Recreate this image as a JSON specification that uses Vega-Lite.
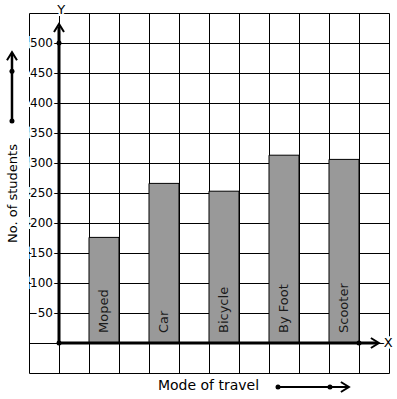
{
  "$schema": "https://vega.github.io/schema/vega-lite/v6.json",
  "width": 360,
  "height": 360,
  "autosize": {"type": "none"},
  "padding": {"left": 29, "top": 13, "right": 8, "bottom": 26},
  "config": {"font": "DejaVu Sans", "view": {"stroke": null}},
  "datasets": {
    "travel": [
      {"mode": "Moped", "students": 176, "slot": 1},
      {"mode": "Car", "students": 266, "slot": 3},
      {"mode": "Bicycle", "students": 253, "slot": 5},
      {"mode": "By Foot", "students": 313, "slot": 7},
      {"mode": "Scooter", "students": 306, "slot": 9}
    ],
    "ticks": [
      {"v": 50}, {"v": 100}, {"v": 150}, {"v": 200}, {"v": 250},
      {"v": 300}, {"v": 350}, {"v": 400}, {"v": 450}, {"v": 500}
    ],
    "one": [{}]
  },
  "layer": [
    {
      "data": {"name": "travel"},
      "mark": {"type": "bar", "fill": "#999999", "stroke": "#000000", "strokeWidth": 1, "size": 30},
      "encoding": {
        "x": {
          "field": "slot", "type": "quantitative",
          "scale": {"domain": [-1.5, 10.5], "nice": false, "zero": false, "padding": 0},
          "axis": {
            "values": [-1.5, -0.5, 0.5, 1.5, 2.5, 3.5, 4.5, 5.5, 6.5, 7.5, 8.5, 9.5, 10.5],
            "tickCount": 30,
            "grid": true, "gridColor": "#000000", "gridWidth": 1, "gridOpacity": 1,
            "labels": false, "ticks": false, "domain": false,
            "title": "Mode of travel", "titleFontSize": 14, "titleFontWeight": "normal",
            "titleColor": "#000000", "titleX": 179, "titleY": 12,
            "titleBaseline": "middle", "titleAlign": "center"
          }
        },
        "y": {
          "field": "students", "type": "quantitative",
          "scale": {"domain": [-50, 550], "nice": false, "zero": false, "padding": 0},
          "axis": {
            "values": [-50, 0, 50, 100, 150, 200, 250, 300, 350, 400, 450, 500, 550],
            "tickCount": 30,
            "grid": true, "gridColor": "#000000", "gridWidth": 1, "gridOpacity": 1,
            "labels": false, "ticks": false, "domain": false,
            "title": "No. of students", "titleFontSize": 13, "titleFontWeight": "normal",
            "titleColor": "#000000", "titleX": -17, "titleY": 180, "titleAngle": 270,
            "titleBaseline": "middle", "titleAlign": "center"
          }
        }
      }
    },
    {
      "data": {"name": "travel"},
      "mark": {"type": "text", "angle": 270, "align": "left", "baseline": "middle", "dx": 10, "fontSize": 13, "fill": "#1a1a1a"},
      "encoding": {
        "x": {"field": "slot", "type": "quantitative"},
        "y": {"datum": 0},
        "text": {"field": "mode"}
      }
    },
    {
      "data": {"name": "ticks"},
      "mark": {"type": "text", "align": "right", "baseline": "middle", "dx": -6, "fontSize": 12, "fill": "#ffffff", "stroke": "#ffffff", "strokeWidth": 4},
      "encoding": {
        "x": {"datum": -0.5},
        "y": {"field": "v", "type": "quantitative"},
        "text": {"field": "v"}
      }
    },
    {
      "data": {"name": "ticks"},
      "mark": {"type": "text", "align": "right", "baseline": "middle", "dx": -6, "fontSize": 12, "fill": "#000000"},
      "encoding": {
        "x": {"datum": -0.5},
        "y": {"field": "v", "type": "quantitative"},
        "text": {"field": "v"}
      }
    },
    {
      "data": {"name": "one"},
      "mark": {"type": "rule", "strokeWidth": 3, "color": "#000000"},
      "encoding": {"x": {"datum": -0.5}, "y": {"datum": 0}, "y2": {"datum": 528}}
    },
    {
      "data": {"name": "one"},
      "mark": {"type": "rule", "strokeWidth": 3, "color": "#000000"},
      "encoding": {"y": {"datum": 0}, "x": {"datum": -0.5}, "x2": {"datum": 10.1}}
    },
    {
      "data": {"name": "one"},
      "mark": {"type": "point", "shape": "M-1,0.8L0,-0.8L1,0.8", "filled": false, "stroke": "#000000", "strokeWidth": 2, "size": 100, "opacity": 1},
      "encoding": {"x": {"datum": -0.5}, "y": {"datum": 525}}
    },
    {
      "data": {"name": "one"},
      "mark": {"type": "point", "shape": "M-0.8,-1L0.8,0L-0.8,1", "filled": false, "stroke": "#000000", "strokeWidth": 2, "size": 100, "opacity": 1},
      "encoding": {"x": {"datum": 10.03}, "y": {"datum": 0}}
    },
    {
      "data": {"name": "one"},
      "mark": {"type": "point", "filled": true, "color": "#000000", "size": 25, "opacity": 1},
      "encoding": {"x": {"datum": -0.5}, "y": {"datum": 0}}
    },
    {
      "data": {"name": "one"},
      "mark": {"type": "point", "filled": true, "color": "#000000", "size": 25, "opacity": 1},
      "encoding": {"x": {"datum": -0.5}, "y": {"datum": 500}}
    },
    {
      "data": {"name": "one"},
      "mark": {"type": "point", "filled": true, "color": "#000000", "size": 25, "opacity": 1},
      "encoding": {"x": {"datum": 9.5}, "y": {"datum": 0}}
    },
    {
      "data": {"name": "one"},
      "mark": {"type": "text", "fontSize": 13, "baseline": "middle", "align": "center", "fill": "#ffffff", "stroke": "#ffffff", "strokeWidth": 4, "text": "Y"},
      "encoding": {"x": {"datum": -0.43}, "y": {"datum": 555}}
    },
    {
      "data": {"name": "one"},
      "mark": {"type": "text", "fontSize": 13, "baseline": "middle", "align": "center", "fill": "#000000", "text": "Y"},
      "encoding": {"x": {"datum": -0.43}, "y": {"datum": 555}}
    },
    {
      "data": {"name": "one"},
      "mark": {"type": "text", "fontSize": 13, "baseline": "middle", "align": "center", "fill": "#ffffff", "stroke": "#ffffff", "strokeWidth": 4, "text": "X"},
      "encoding": {"x": {"datum": 10.47}, "y": {"datum": 0}}
    },
    {
      "data": {"name": "one"},
      "mark": {"type": "text", "fontSize": 13, "baseline": "middle", "align": "center", "fill": "#000000", "text": "X"},
      "encoding": {"x": {"datum": 10.47}, "y": {"datum": 0}}
    },
    {
      "data": {"name": "one"},
      "mark": {"type": "rule", "strokeWidth": 2.5, "color": "#000000"},
      "encoding": {"x": {"datum": -2.067}, "y": {"datum": 370}, "y2": {"datum": 482}}
    },
    {
      "data": {"name": "one"},
      "mark": {"type": "point", "shape": "M-1,0.8L0,-0.8L1,0.8", "filled": false, "stroke": "#000000", "strokeWidth": 2, "size": 100, "opacity": 1},
      "encoding": {"x": {"datum": -2.067}, "y": {"datum": 478}}
    },
    {
      "data": {"name": "one"},
      "mark": {"type": "point", "filled": true, "color": "#000000", "size": 25, "opacity": 1},
      "encoding": {"x": {"datum": -2.067}, "y": {"datum": 370}}
    },
    {
      "data": {"name": "one"},
      "mark": {"type": "point", "filled": true, "color": "#000000", "size": 25, "opacity": 1},
      "encoding": {"x": {"datum": -2.067}, "y": {"datum": 453}}
    },
    {
      "data": {"name": "one"},
      "mark": {"type": "rule", "strokeWidth": 2, "color": "#000000"},
      "encoding": {"y": {"datum": -73.3}, "x": {"datum": 6.8}, "x2": {"datum": 9.13}}
    },
    {
      "data": {"name": "one"},
      "mark": {"type": "point", "shape": "M-0.8,-1L0.8,0L-0.8,1", "filled": false, "stroke": "#000000", "strokeWidth": 2, "size": 100, "opacity": 1},
      "encoding": {"x": {"datum": 9.03}, "y": {"datum": -73.3}}
    },
    {
      "data": {"name": "one"},
      "mark": {"type": "point", "filled": true, "color": "#000000", "size": 25, "opacity": 1},
      "encoding": {"x": {"datum": 6.8}, "y": {"datum": -73.3}}
    },
    {
      "data": {"name": "one"},
      "mark": {"type": "point", "filled": true, "color": "#000000", "size": 25, "opacity": 1},
      "encoding": {"x": {"datum": 8.533}, "y": {"datum": -73.3}}
    }
  ]
}
